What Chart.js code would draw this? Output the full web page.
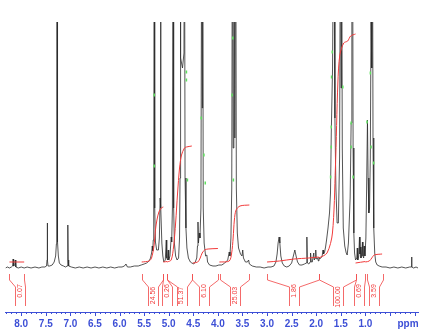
<!DOCTYPE html>
<html>
<head>
<meta charset="utf-8">
<script src="https://cdn.jsdelivr.net/npm/chart.js@4/dist/chart.umd.min.js"></script>
<style>
  body { margin: 0; background: #fff; }
  canvas { display: block; }
</style>
</head>
<body>
<canvas id="nmr" width="424" height="332"></canvas>
<script>
// spectrum: [ppm, intensity above baseline]
const spectrum = [
  [8.32,0],[8.28,1],[8.24,0],[8.20,1],[8.175,2],[8.165,9],[8.155,2],[8.13,3],[8.122,8],[8.11,1],[8.06,0],[8.00,1],[7.94,0],[7.88,1],[7.80,0],[7.72,1],[7.64,0],[7.58,1],[7.52,1],
  [7.485,2],[7.475,8],[7.47,45],[7.465,8],[7.455,2],
  [7.42,2],[7.37,3],[7.33,6],[7.30,12],[7.285,24],[7.278,60],[7.272,400],[7.266,60],[7.258,26],[7.245,12],[7.225,5],[7.19,3],[7.14,2],[7.10,1],
  [7.065,2],[7.055,8],[7.05,43],[7.045,8],[7.035,2],
  [6.98,1],[6.90,0],[6.82,1],[6.74,0],[6.66,1],[6.58,0],[6.50,1],[6.42,0],[6.34,1],[6.26,0],[6.18,1],[6.10,0],[6.02,1],[5.95,1],[5.90,2],[5.87,4],[5.84,1],[5.78,1],[5.70,2],[5.62,2],[5.56,3],
  [5.50,4],[5.45,5],[5.40,7],[5.37,10],[5.345,16],[5.335,22],[5.325,17],[5.315,28],[5.305,60],[5.295,400],[5.285,60],[5.27,26],[5.245,18],[5.21,18],[5.19,30],[5.175,70],[5.166,400],[5.158,60],[5.14,25],[5.12,12],[5.10,6],
  [5.07,8],[5.05,28],[5.04,10],[5.025,8],[5.01,18],[5.00,8],[4.975,12],[4.95,31],[4.94,26],[4.925,60],[4.911,400],[4.90,60],[4.885,25],[4.86,12],[4.83,8],[4.80,10],[4.78,30],[4.77,90],[4.763,400],[4.755,210],[4.72,200],[4.69,215],[4.68,400],[4.668,90],[4.65,40],[4.63,20],[4.60,10],[4.56,6],[4.53,5],
  [4.49,4],[4.46,6],[4.43,10],[4.415,22],[4.405,46],[4.395,25],[4.38,35],[4.365,30],[4.345,60],[4.328,400],[4.318,160],[4.31,400],[4.298,60],[4.28,25],[4.25,12],[4.225,13],[4.21,6],[4.17,3],[4.10,2],[4.04,2],[3.98,3],
  [3.92,3],[3.86,5],[3.80,8],[3.77,16],[3.755,12],[3.735,30],[3.718,80],[3.705,400],[3.69,120],[3.675,400],[3.655,130],[3.638,400],[3.625,80],[3.605,35],[3.58,20],[3.54,14],[3.51,12],[3.495,18],[3.48,10],[3.44,6],[3.40,6],[3.375,8],[3.36,4],[3.30,2],[3.22,1],[3.14,1],[3.06,0],[2.98,1],[2.92,1],
  [2.86,2],[2.82,6],[2.795,14],[2.775,25],[2.755,31],[2.74,25],[2.72,12],[2.69,5],[2.65,2],[2.60,1],[2.55,2],[2.50,5],[2.47,11],[2.435,18],[2.41,12],[2.38,6],[2.34,3],[2.29,3],[2.24,4],[2.20,5],[2.19,31],[2.18,5],[2.15,4],[2.125,6],[2.115,15],[2.10,6],[2.08,6],[2.05,15],[2.04,8],[2.02,10],[2.01,18],[2.00,9],[1.975,10],[1.955,7],[1.945,11],[1.93,9],[1.905,10],[1.88,12],[1.862,18],[1.85,14],[1.83,16],[1.81,21],[1.79,28],
  [1.76,40],[1.73,55],[1.71,75],[1.694,135],[1.668,200],[1.655,300],[1.645,400],[1.635,300],[1.62,150],[1.60,80],[1.575,45],[1.55,45],[1.525,110],[1.505,400],[1.495,180],[1.485,400],[1.47,120],[1.45,40],[1.42,22],[1.39,15],[1.37,13],[1.345,25],[1.31,70],[1.29,145],[1.275,260],[1.262,400],[1.25,120],[1.235,35],[1.22,15],[1.20,8],
  [1.175,10],[1.165,20],[1.155,8],[1.135,12],[1.12,31],[1.11,14],[1.10,21],[1.09,10],[1.075,14],[1.06,26],[1.05,12],[1.035,10],[1.025,22],[1.01,12],[0.99,30],[0.975,80],[0.958,148],[0.945,90],[0.93,55],[0.915,60],[0.90,110],[0.885,250],[0.875,400],[0.866,200],[0.858,400],[0.845,130],[0.83,40],[0.81,15],[0.79,6],[0.76,3],[0.72,2],
  [0.66,1],[0.58,1],[0.50,0],[0.42,1],[0.34,0],[0.26,1],[0.18,0],[0.10,1],[0.066,1],[0.06,11],[0.054,1],[0.02,0],[-0.03,1],[-0.07,0]
];

// integrals
const integralValues = ['0.07', '24.56', '0.26', '51.37', '6.10', '25.03', '1.86', '100.00', '0.69', '3.59'];
const integralFrom   = [8.24, 5.55, 5.11, 5.03, 4.53, 3.96, 3.01, 1.945, 1.20, 0.97];
const integralTo     = [7.94, 5.11, 5.03, 4.53, 3.99, 3.36, 1.945, 1.20, 1.00, 0.64];
const integralLabelAt = [8.02, 5.31, 5.03, 4.74, 4.28, 3.66, 2.46, 1.55, 1.13, 0.82];
const integralCurves = [
  [[8.24,6],[7.94,6]],
  [[5.55,6],[5.40,7],[5.35,10],[5.30,22],[5.27,38],[5.24,48],[5.20,56],[5.15,60],[5.11,61]],
  [[5.11,6],[5.03,6.5]],
  [[5.03,6],[4.95,8],[4.90,22],[4.86,45],[4.82,75],[4.78,100],[4.74,113],[4.68,120],[4.64,121],[4.53,122]],
  [[4.51,5],[4.41,6],[4.36,10],[4.32,15],[4.27,18],[4.20,19],[4.00,19.5]],
  [[3.97,6],[3.77,7],[3.72,15],[3.69,30],[3.665,48],[3.63,58],[3.55,62],[3.36,63]],
  [[3.00,6],[2.75,7],[2.45,9],[2.15,10],[1.95,11]],
  [[1.945,10],[1.78,15],[1.67,35],[1.61,100],[1.56,185],[1.52,213],[1.44,225],[1.36,227],[1.30,232],[1.20,234]],
  [[1.20,5],[1.00,6.5]],
  [[1.00,6],[0.92,7],[0.87,10],[0.82,13],[0.66,14]]
];

// peak-pick marks (green)
const peakMarks = [
  [5.295,173],[5.295,102],[4.64,196],[4.64,188],[4.62,88],[4.338,150],[4.284,113],[4.257,85],
  [3.697,230],[3.711,173],[3.685,88],[1.674,216],[1.688,191],[1.694,141],[1.694,121],[1.708,91],
  [1.459,181],[1.29,145],[1.29,121],[1.249,91],[0.966,146],[0.899,195],[0.885,121],[0.832,105]
];

const tickLabels = ['8.0','7.5','7.0','6.5','6.0','5.5','5.0','4.5','4.0','3.5','3.0','2.5','2.0','1.5','1.0'];

const axisBlue = '#3d4fd6';
const intRed = '#f23b3b';

const toXY = arr => arr.map(p => ({x: p[0], y: p[1]}));

const datasets = [
  {
    data: toXY(peakMarks), showLine: false, order: 1,
    pointStyle: 'line', rotation: 90, pointRadius: 1.5,
    pointBorderColor: '#5ee05e', pointBorderWidth: 1.5
  },
  ...integralCurves.map(c => ({
    data: toXY(c), order: 2, borderColor: intRed, borderWidth: 1, pointRadius: 0, tension: 0.3
  })),
  {
    data: toXY(spectrum), order: 3, borderColor: '#2a2a2a', borderWidth: 0.8, pointRadius: 0, tension: 0
  }
];

const overlay = {
  id: 'overlay',
  afterDatasetsDraw(chart) {
    const {ctx, chartArea, scales: {x, y}} = chart;
    ctx.save();

    // integral brackets and values
    ctx.lineWidth = 1;
    ctx.strokeStyle = 'rgba(242,80,80,0.85)';
    ctx.fillStyle = intRed;
    ctx.font = '7px "Liberation Sans", Arial, sans-serif';
    ctx.textAlign = 'center';
    ctx.textBaseline = 'middle';
    const y0 = y.getPixelForValue(-6), y1 = y.getPixelForValue(-12),
          y2 = y.getPixelForValue(-19), y3 = y.getPixelForValue(-38);
    integralValues.forEach((val, i) => {
      const xa = Math.round(x.getPixelForValue(integralFrom[i])) + 0.5;
      const xb = Math.round(x.getPixelForValue(integralTo[i])) + 0.5;
      const xc = x.getPixelForValue(integralLabelAt[i]);
      const l = Math.round(xc - 5) + 0.5, r = Math.round(xc + 5) + 0.5;
      ctx.beginPath();
      ctx.moveTo(xa, y0); ctx.lineTo(xa, y1); ctx.lineTo(l, y2); ctx.lineTo(l, y3);
      ctx.moveTo(xb, y0); ctx.lineTo(xb, y1); ctx.lineTo(r, y2); ctx.lineTo(r, y3);
      ctx.stroke();
      const cy = y.getPixelForValue(val.length <= 4 ? -23 : (val.length === 5 ? -27.5 : -29));
      ctx.save();
      ctx.translate(xc, cy);
      ctx.rotate(-Math.PI / 2);
      ctx.fillText(val, 0, 0);
      ctx.restore();
    });

    // axis tick marks, every 0.1 ppm
    ctx.strokeStyle = axisBlue;
    ctx.beginPath();
    for (let i = 0; i <= 83; i++) {
      const px = Math.round(x.getPixelForValue(i / 10)) + 0.5;
      const len = i % 5 === 0 ? 4 : 2;
      ctx.moveTo(px, chartArea.bottom);
      ctx.lineTo(px, chartArea.bottom + len);
    }
    ctx.stroke();

    // tick labels and unit
    ctx.fillStyle = axisBlue;
    ctx.font = 'bold 10px "Liberation Sans", Arial, sans-serif';
    ctx.textBaseline = 'middle';
    tickLabels.forEach(t => {
      ctx.fillText(t, x.getPixelForValue(parseFloat(t)), 324);
    });
    ctx.fillText('ppm', 408, 324);
    ctx.restore();
  }
};

new Chart(document.getElementById('nmr'), {
  type: 'line',
  data: { datasets },
  options: {
    responsive: false,
    animation: false,
    layout: { padding: { left: 3, right: 6, top: 22, bottom: 0 } },
    plugins: { legend: { display: false }, tooltip: { enabled: false } },
    scales: {
      x: {
        type: 'linear',
        reverse: true,
        min: -0.07,
        max: 8.32,
        afterFit: s => { s.height = 20; },
        grid: { display: false, drawTicks: false },
        border: { display: true, color: axisBlue, width: 1 },
        ticks: { display: false }
      },
      y: {
        display: false,
        min: -44,
        max: 246
      }
    }
  },
  plugins: [overlay]
});
</script>
</body>
</html>
